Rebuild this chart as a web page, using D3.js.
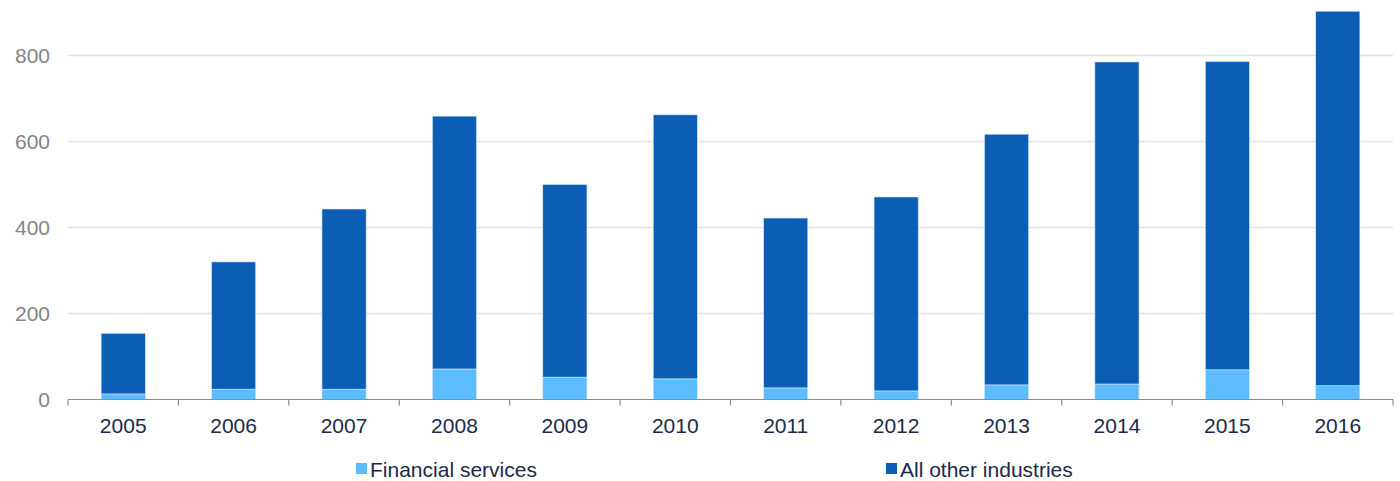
<!DOCTYPE html>
<html>
<head>
<meta charset="utf-8">
<script src="https://cdn.jsdelivr.net/npm/d3@7"></script>
<style>
  body { margin: 0; background: #fff; }
  text { font-family: "Liberation Sans", Arial, sans-serif; }
</style>
</head>
<body>
<div id="chart"></div>
<script>
// data
var years = ["2005","2006","2007","2008","2009","2010","2011","2012","2013","2014","2015","2016"];
var financial = [13, 24, 24, 71, 52, 48, 27, 20, 34, 36, 69, 32];
var otherIndustries = [141, 296, 419, 588, 448, 614, 395, 451, 583, 749, 717, 871];
var seriesNames = ["Financial services", "All other industries"];
var yTicks = [0, 200, 400, 600, 800];

var width = 1400, height = 481;
var left = 68, right = 1393, base = 399.5;

var svg = d3.select("#chart")
  .append("svg")
    .attr("width", width)
    .attr("height", height);

var x = d3.scaleBand()
    .domain(years)
    .range([left, right])
    .paddingInner(0.6)
    .paddingOuter(0.3);

var y = d3.scaleLinear()
    .domain([0, 800])
    .range([base, 55.5]);

var color = d3.scaleOrdinal()
    .domain(seriesNames)
    .range(["#5bbcff", "#0b5eb4"]);

// gridlines
svg.append("g")
  .selectAll("line")
  .data(yTicks.filter(function(d) { return d > 0; }))
  .enter()
  .append("line")
    .attr("x1", left)
    .attr("x2", right)
    .attr("y1", function(d) { return y(d); })
    .attr("y2", function(d) { return y(d); })
    .attr("stroke", "#e2e2e2")
    .attr("stroke-width", 1.5);

// y labels
svg.append("g")
  .selectAll("text")
  .data(yTicks)
  .enter()
  .append("text")
    .attr("x", 50)
    .attr("y", function(d) { return y(d) + 7.5; })
    .attr("text-anchor", "end")
    .attr("fill", "#858585")
    .style("font-size", "21px")
    .text(function(d) { return d; });

// stacked bars
var table = years.map(function(yr, i) {
  return {year: yr, "Financial services": financial[i], "All other industries": otherIndustries[i]};
});
var stacked = d3.stack().keys(seriesNames)(table);

svg.append("g")
  .selectAll("g")
  .data(stacked)
  .enter()
  .append("g")
    .attr("fill", function(d) { return color(d.key); })
  .selectAll("rect")
  .data(function(d) { return d; })
  .enter()
  .append("rect")
    .attr("x", function(d) { return x(d.data.year); })
    .attr("width", x.bandwidth())
    .attr("y", function(d) { return y(d[1]); })
    .attr("height", function(d) { return y(d[0]) - y(d[1]); })
    .attr("stroke", "#d8e8f8")
    .attr("stroke-width", 0.6);

// x axis
var xAxis = svg.append("g")
    .attr("transform", "translate(0," + base + ")")
    .call(d3.axisBottom(x).tickSize(0).tickPadding(0));
xAxis.select(".domain").remove();
xAxis.append("line")
    .attr("x1", left).attr("x2", right)
    .attr("stroke", "#8c8c8c").attr("stroke-width", 1.2);
xAxis.selectAll(".bound")
  .data(d3.range(years.length + 1))
  .enter()
  .append("line")
    .attr("x1", function(i) { return left + i * x.step(); })
    .attr("x2", function(i) { return left + i * x.step(); })
    .attr("y1", 0).attr("y2", 6)
    .attr("stroke", "#8c8c8c").attr("stroke-width", 1.2);
xAxis.selectAll(".tick text")
    .attr("y", 33)
    .attr("dy", 0)
    .attr("fill", "#1b2a4a")
    .style("font-size", "21px")
    .style("font-family", "'Liberation Sans', Arial, sans-serif");

// legend
var legendX = [356, 886];
var legend = svg.append("g")
  .selectAll("g")
  .data(seriesNames)
  .enter()
  .append("g")
    .attr("transform", function(d, i) { return "translate(" + legendX[i] + ",463)"; });
legend.append("rect")
    .attr("width", 11)
    .attr("height", 11)
    .attr("fill", function(d) { return color(d); });
legend.append("text")
    .attr("x", 14)
    .attr("y", 13.5)
    .attr("fill", "#1b2a4a")
    .style("font-size", "21px")
    .text(function(d) { return d; });
</script>
</body>
</html>
